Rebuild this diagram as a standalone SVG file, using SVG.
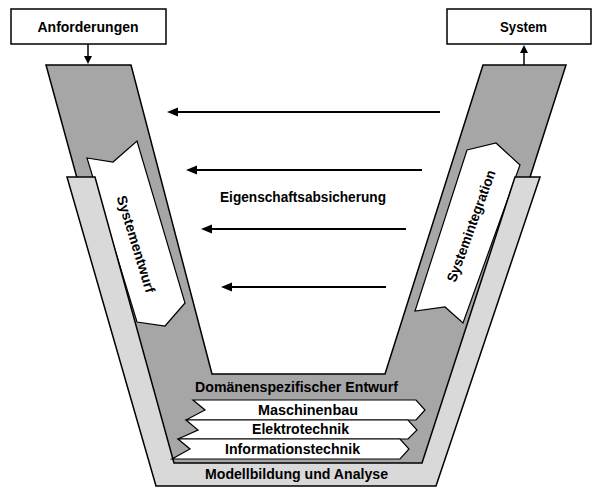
<svg xmlns="http://www.w3.org/2000/svg" width="592" height="487" viewBox="0 0 592 487">
  <style>
    .box { fill: #ffffff; stroke: #000000; stroke-width: 1.5; }
    .dark { fill: #a6a6a6; stroke: #000000; stroke-width: 1.5; stroke-linejoin: miter; }
    .light { fill: #d9d9d9; stroke: #000000; stroke-width: 1.5; }
    .banner { fill: #ffffff; stroke: #000000; stroke-width: 1.2; stroke-linejoin: miter; }
    .lbl { font-family: "Liberation Sans", Arial, sans-serif; font-weight: bold; font-size: 14px; fill: #000000; }
    .mid { text-anchor: middle; }
    .conn { stroke: #000000; fill: none; }
  </style>
  <defs>
    <marker id="headH" markerUnits="userSpaceOnUse" markerWidth="12" markerHeight="10" refX="1" refY="4.5" orient="auto">
      <path d="M0,0 L11,4.5 L0,9 z" fill="#000000"/>
    </marker>
    <marker id="headV" markerUnits="userSpaceOnUse" markerWidth="10" markerHeight="9" refX="1" refY="4" orient="auto">
      <path d="M0,0 L8,4 L0,8 z" fill="#000000"/>
    </marker>
  </defs>

  <!-- V-shaped development band -->
  <g id="v-band">
    <polygon class="dark" points="46,65 131,65 212,374 385,374 483,65 566,65 436,470 157,470"/>
  </g>

  <!-- Arm banners -->
  <g id="systementwurf">
    <polygon class="banner" points="87,158 113,162 137,141 185,303 165,326 137,322"/>
    <text class="lbl mid" transform="translate(136,244) rotate(73)" dy="0.35em" textLength="101" lengthAdjust="spacingAndGlyphs">Systementwurf</text>
  </g>
  <g id="systemintegration">
    <polygon class="banner" points="467,150 496,143 520,165 463,323 445,307 415,311"/>
    <text class="lbl mid" transform="translate(471,226) rotate(-70)" dy="0.35em" textLength="118" lengthAdjust="spacingAndGlyphs">Systemintegration</text>
  </g>

  <!-- Modelling band -->
  <g id="modellbildung">
    <polygon class="light" points="67,177 95,177 174,463 422,463 515,177 540,177 436,486 156,486"/>
    <text class="lbl mid" x="296.5" y="479" textLength="183" lengthAdjust="spacingAndGlyphs">Modellbildung und Analyse</text>
  </g>

  <!-- Domain-specific design -->
  <g id="domaenen">
    <text class="lbl mid" x="296.5" y="392" textLength="203" lengthAdjust="spacingAndGlyphs">Domänenspezifischer Entwurf</text>
  </g>
  <g id="maschinenbau">
    <polygon class="banner" points="193,400 416,400 425,410 416,420 186,420 205,410"/>
    <text class="lbl mid" x="308" y="415" textLength="100" lengthAdjust="spacingAndGlyphs">Maschinenbau</text>
  </g>
  <g id="elektrotechnik">
    <polygon class="banner" points="186,420 408,420 417,430 408,439 178,439 198,430"/>
    <text class="lbl mid" x="300.5" y="434" textLength="97" lengthAdjust="spacingAndGlyphs">Elektrotechnik</text>
  </g>
  <g id="informationstechnik">
    <polygon class="banner" points="178,439 400,439 409,449 400,459 172,459 190,449"/>
    <text class="lbl mid" x="292.5" y="453.5" textLength="135" lengthAdjust="spacingAndGlyphs">Informationstechnik</text>
  </g>

  <!-- Top boxes -->
  <g id="anforderungen">
    <rect class="box" x="11" y="9" width="155" height="35"/>
    <text class="lbl mid" x="88" y="32" textLength="101" lengthAdjust="spacingAndGlyphs">Anforderungen</text>
  </g>
  <g id="system">
    <rect class="box" x="447" y="9" width="144" height="35"/>
    <text class="lbl mid" x="523.5" y="32" textLength="47" lengthAdjust="spacingAndGlyphs">System</text>
  </g>

  <!-- Property assurance label -->
  <g id="eigenschaftsabsicherung">
    <text class="lbl mid" x="303" y="202" textLength="166" lengthAdjust="spacingAndGlyphs">Eigenschaftsabsicherung</text>
  </g>

  <!-- Connectors -->
  <g id="connectors">
    <line class="conn" stroke-width="1.5" x1="88" y1="44" x2="88" y2="57" marker-end="url(#headV)"/>
    <line class="conn" stroke-width="1.5" x1="524" y1="65" x2="524" y2="52" marker-end="url(#headV)"/>
    <line class="conn" stroke-width="2" x1="440" y1="112" x2="177" y2="112" marker-end="url(#headH)"/>
    <line class="conn" stroke-width="2" x1="422" y1="170" x2="196" y2="170" marker-end="url(#headH)"/>
    <line class="conn" stroke-width="2" x1="406" y1="229" x2="211" y2="229" marker-end="url(#headH)"/>
    <line class="conn" stroke-width="2" x1="386" y1="287" x2="231" y2="287" marker-end="url(#headH)"/>
  </g>
</svg>
